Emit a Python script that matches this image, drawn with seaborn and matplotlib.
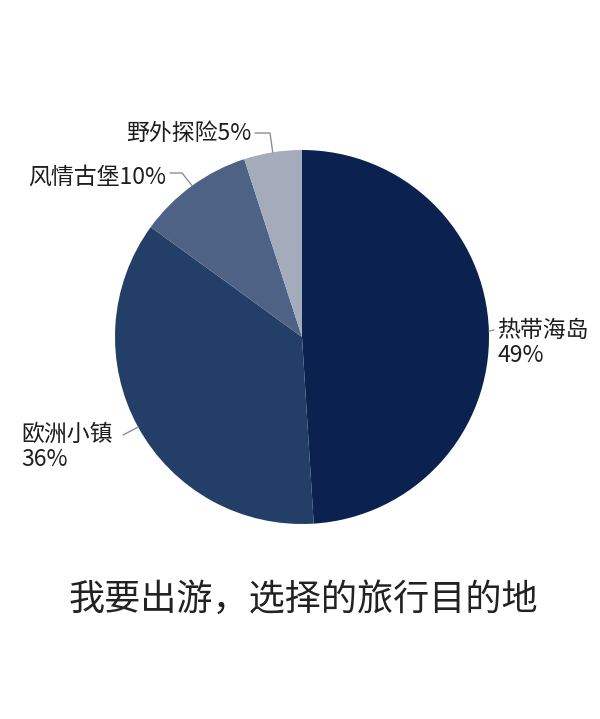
import matplotlib.pyplot as plt
import numpy as np
import seaborn as sns

# data
destinations = ["热带海岛", "欧洲小镇", "风情古堡", "野外探险"]
shares = [49, 36, 10, 5]
label_texts = ["热带海岛\n49%", "欧洲小镇\n36%", "风情古堡10%", "野外探险5%"]
slice_colors = ["#0b2150", "#233f68", "#4d6285", "#a4acbb"]
title = "我要出游，选择的旅行目的地"

sns.set_theme(style="white")
plt.rcParams["font.family"] = ["Noto Sans CJK SC", "DejaVu Sans"]

W, H = 600, 719
CX, CY, R = 302, 337, 187  # pie centre / radius in pixels


def px(x, y):
    # pixel position -> data coords (pie radius = 1)
    return (x - CX) / R, (CY - y) / R


fig = plt.figure(figsize=(W / 100, H / 100), dpi=100)
ax = fig.add_axes([0, 0, 1, 1])

wedges, _ = ax.pie(
    shares,
    colors=sns.color_palette(slice_colors),
    startangle=90,
    counterclock=False,
    radius=1,
    wedgeprops=dict(linewidth=0),
)
x0, y0 = px(0, H)
x1, y1 = px(W, 0)
ax.set_xlim(x0, x1)
ax.set_ylim(y0, y1)
ax.set_aspect("auto")
ax.axis("off")

# label placement (pixels): text anchor, ha, elbow points before the pie edge
layout = [
    dict(pos=(497, 343), ha="left", path=[(494, 330)]),
    dict(pos=(21, 447), ha="left", path=[(123, 435)]),
    dict(pos=(166, 177), ha="right", path=[(170, 173), (182, 173)]),
    dict(pos=(251, 133), ha="right", path=[(255, 133), (270, 133)]),
]

for w, txt, lay in zip(wedges, label_texts, layout):
    mid = np.deg2rad((w.theta1 + w.theta2) / 2)
    edge = (np.cos(mid), np.sin(mid))
    pts = [px(*p) for p in lay["path"]] + [edge]
    ax.plot([p[0] for p in pts], [p[1] for p in pts], color="#8a8f99", lw=1)
    tx, ty = px(*lay["pos"])
    ax.text(tx, ty, txt, ha=lay["ha"], va="center", fontsize=16.5,
            color="#1e1e1e", linespacing=1.15)

fig.text(303 / W, 1 - 600 / H, title, ha="center", va="center",
         fontsize=26, color="#222222")

plt.savefig("out.png", dpi=100)
plt.close()
